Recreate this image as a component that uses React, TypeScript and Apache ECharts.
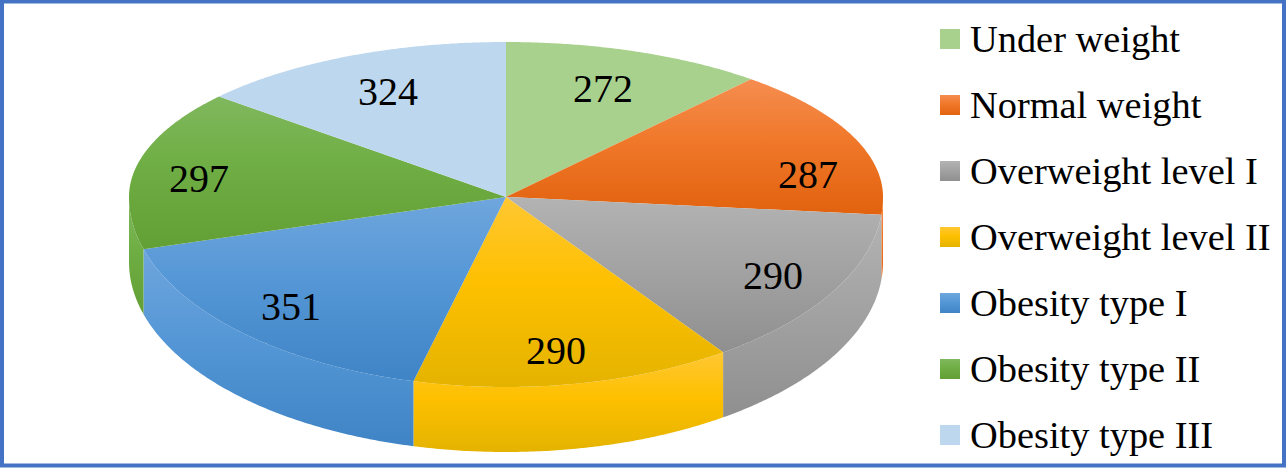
import React, { useEffect, useRef } from "react";
import * as echarts from "echarts";

const categories = ["Under weight", "Normal weight", "Overweight level I", "Overweight level II", "Obesity type I", "Obesity type II", "Obesity type III"];
const values = [272, 287, 290, 290, 351, 297, 324];

const shadeLight = ["#a9d18e", "#f58d50", "#b3b3b3", "#ffc733", "#6fa6dd", "#80b85e", "#bdd7ee"];
const shadeMid = ["#a9d18e", "#f0782a", "#a3a3a3", "#fec000", "#5597d6", "#6fae44", "#bdd7ee"];
const shadeDark = ["#a9d18e", "#e2620e", "#8f8f8f", "#e4b300", "#3f84c6", "#629f35", "#bdd7ee"];
const labelAnchors: [number, number][] = [[603, 88], [808, 174], [773, 275], [556, 350], [291, 306], [199, 178], [388, 91]];

const APEX_X = 506, APEX_Y = 197, RX = 377, TOP_RY = 155, BOTTOM_RY = 190, DEPTH = 65;
const DIR_X = 338, DIR_Y = 170.7;
const FONT = '"Liberation Serif", serif';
const total = values.reduce((a, b) => a + b, 0);

// degrees clockwise from 12 o'clock -> point on the rim of the tilted disc
function rim(deg: number): [number, number] {
  const t = (deg * Math.PI) / 180;
  const dx = DIR_X * Math.sin(t), dy = -DIR_Y * Math.cos(t);
  const b = dy < 0 ? TOP_RY : BOTTOM_RY;
  const s = 1 / Math.hypot(dx / RX, dy / b);
  return [APEX_X + dx * s, APEX_Y + dy * s];
}
function arc(a: number, b: number): [number, number][] {
  const pts: [number, number][] = [];
  const n = Math.max(2, Math.ceil(Math.abs(b - a) * 2));
  for (let i = 0; i <= n; i++) pts.push(rim(a + ((b - a) * i) / n));
  return pts;
}
function vgrad(i: number) {
  return new echarts.graphic.LinearGradient(0, 0, 0, 1, [
    { offset: 0, color: shadeLight[i] },
    { offset: 0.45, color: shadeMid[i] },
    { offset: 1, color: shadeDark[i] },
  ]);
}

function seriesFor(i: number) {
  const start = (values.slice(0, i).reduce((a, b) => a + b, 0) / total) * 360;
  const end = (values.slice(0, i + 1).reduce((a, b) => a + b, 0) / total) * 360;
  return {
    type: "custom",
    name: categories[i],
    coordinateSystem: "none",
    silent: true,
    data: [values[i]],
    itemStyle: { color: shadeMid[i] },
    renderItem: (_p: any, api: any) => {
      const value = api.value(0);
      const children: any[] = [];
      const wa = Math.max(start, 90), wb = Math.min(end, 270);
      if (wb > wa) {
        const edge = arc(wa, wb);
        const lower = edge.map(([x, y]) => [x, y + DEPTH] as [number, number]).reverse();
        children.push({
          type: "polygon",
          z2: 1,
          shape: { points: [...edge, ...lower] },
          style: { fill: vgrad(i) },
        });
      }
      children.push({
        type: "polygon",
        z2: 5,
        shape: { points: [[APEX_X, APEX_Y], ...arc(start, end)] },
        style: { fill: vgrad(i) },
      });
      children.push({
        type: "text",
        z2: 10,
        x: labelAnchors[i][0],
        y: labelAnchors[i][1],
        style: {
          text: String(value),
          fill: "#000",
          font: `40px ${FONT}`,
          textAlign: "center",
          textVerticalAlign: "middle",
        },
      });
      return { type: "group", children };
    },
  };
}

export default function App() {
  const ref = useRef<HTMLDivElement>(null);
  useEffect(() => {
    const chart = echarts.init(ref.current!, undefined, { renderer: "svg" });
    chart.setOption({
      animation: false,
      backgroundColor: "#fff",
      legend: {
        orient: "vertical",
        left: 940,
        top: 18,
        padding: 0,
        itemWidth: 20,
        itemHeight: 20,
        itemGap: 24,
        icon: "rect",
        selectedMode: false,
        textStyle: { fontFamily: FONT, fontSize: 38.4, color: "#000", padding: [0, 0, 0, 5], lineHeight: 42 },
        data: categories.map((name, i) => ({ name, itemStyle: { color: vgrad(i) } })),
      },
      graphic: [
        {
          type: "rect",
          z: 100,
          silent: true,
          shape: { x: 2, y: 1.5, width: 1282, height: 464 },
          style: { fill: "none", stroke: "#4472c4", lineWidth: 4 },
        },
      ],
      series: categories.map((_, i) => seriesFor(i)),
    });
    return () => chart.dispose();
  }, []);
  return <div ref={ref} style={{ position: "absolute", left: 0, top: 0, width: 1287, height: 468 }} />;
}
